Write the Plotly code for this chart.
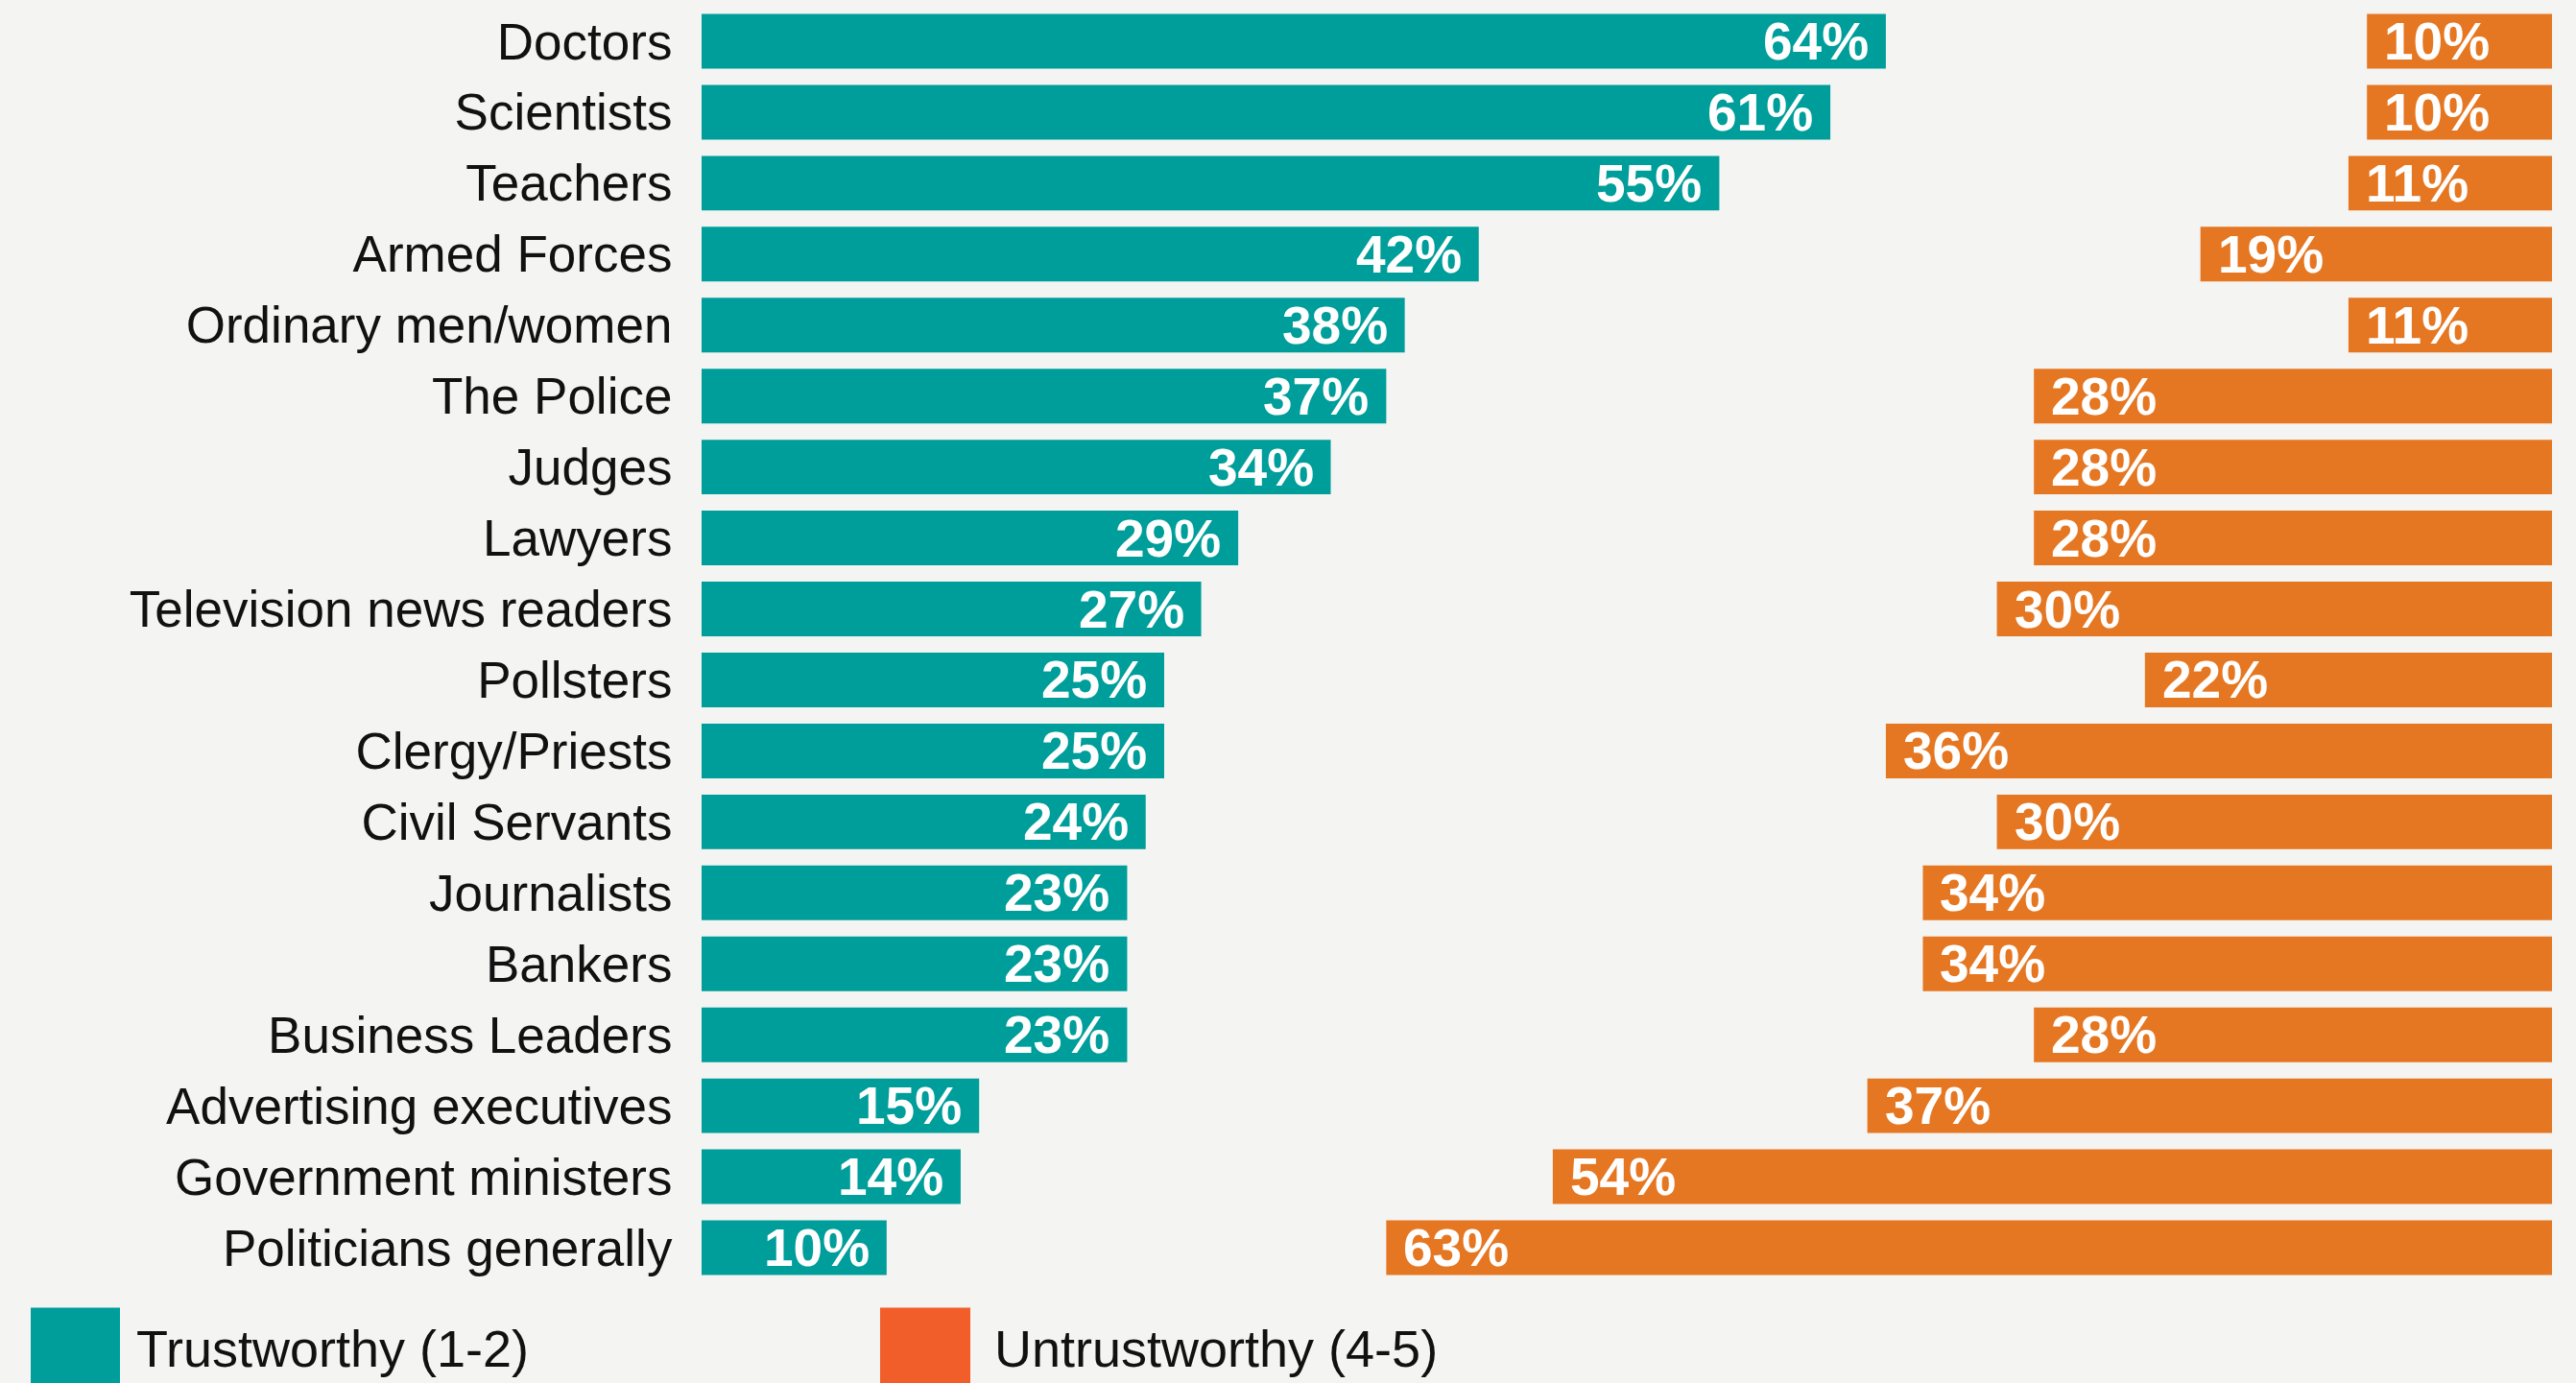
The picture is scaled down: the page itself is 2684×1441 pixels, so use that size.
import plotly.graph_objects as go

categories = ["Doctors", "Scientists", "Teachers", "Armed Forces", "Ordinary men/women",
              "The Police", "Judges", "Lawyers", "Television news readers", "Pollsters",
              "Clergy/Priests", "Civil Servants", "Journalists", "Bankers", "Business Leaders",
              "Advertising executives", "Government ministers", "Politicians generally"]
trustworthy = [64, 61, 55, 42, 38, 37, 34, 29, 27, 25, 25, 24, 23, 23, 23, 15, 14, 10]
untrustworthy = [10, 10, 11, 19, 11, 28, 28, 28, 30, 22, 36, 30, 34, 34, 28, 37, 54, 63]
legend_labels = ["Trustworthy (1-2)", "Untrustworthy (4-5)"]
scale_max = 100

TEAL = "#009E9A"
ORANGE = "#E67722"
LEGEND_ORANGE = "#F25E2A"
BG = "#F4F4F2"
FONT = "Liberation Sans, Arial, Helvetica, sans-serif"

fig = go.Figure()
fig.add_trace(go.Bar(y=categories, x=trustworthy, orientation="h", base=0,
                     marker=dict(color=TEAL, line=dict(width=0)), name=legend_labels[0],
                     hoverinfo="skip"))
fig.add_trace(go.Bar(y=categories, x=untrustworthy, orientation="h",
                     base=[scale_max - v for v in untrustworthy],
                     marker=dict(color=ORANGE, line=dict(width=0)), name=legend_labels[1],
                     hoverinfo="skip"))

annotations = []
for c, v in zip(categories, trustworthy):
    annotations.append(dict(x=v, y=c, xref="x", yref="y", text=f"{v}%", showarrow=False,
                            xanchor="right", yanchor="middle", xshift=-16, yshift=0,
                            font=dict(family=FONT, size=55, color="white", weight="bold")))
for c, v in zip(categories, untrustworthy):
    annotations.append(dict(x=scale_max - v, y=c, xref="x", yref="y", text=f"{v}%", showarrow=False,
                            xanchor="left", yanchor="middle", xshift=16, yshift=0,
                            font=dict(family=FONT, size=55, color="white", weight="bold")))

# legend drawn manually
plot_l, plot_w = 731, 1928
plot_b, plot_h = 1337.5, 1332
def px_x(p):
    return (p - plot_l) / plot_w
def px_y(p):
    return (plot_b - p) / plot_h

shapes = [
    dict(type="rect", xref="paper", yref="paper", x0=px_x(32), x1=px_x(125),
         y0=px_y(1363), y1=px_y(1460), fillcolor=TEAL, line=dict(width=0), layer="above"),
    dict(type="rect", xref="paper", yref="paper", x0=px_x(917), x1=px_x(1011),
         y0=px_y(1363), y1=px_y(1460), fillcolor=LEGEND_ORANGE, line=dict(width=0), layer="above"),
]
annotations.append(dict(x=px_x(140), y=px_y(1406), xref="paper", yref="paper", text=legend_labels[0],
                        showarrow=False, xanchor="left", yanchor="middle",
                        font=dict(family=FONT, size=54, color="#111111")))
annotations.append(dict(x=px_x(1034), y=px_y(1406), xref="paper", yref="paper", text=legend_labels[1],
                        showarrow=False, xanchor="left", yanchor="middle",
                        font=dict(family=FONT, size=54, color="#111111")))

fig.update_layout(
    width=2684, height=1441,
    margin=dict(l=731, r=25, t=6, b=103.5, pad=0),
    paper_bgcolor=BG, plot_bgcolor=BG,
    barmode="overlay", bargap=0.23,
    showlegend=False,
    annotations=annotations, shapes=shapes,
    font=dict(family=FONT, color="#111111"),
)
fig.update_xaxes(range=[0, scale_max], visible=False, showgrid=False, zeroline=False, fixedrange=True)
fig.update_yaxes(autorange="reversed", showgrid=False, zeroline=False, showline=False,
                 ticks="outside", ticklen=19, tickcolor="rgba(0,0,0,0)",
                 tickfont=dict(family=FONT, size=53, color="#111111"), fixedrange=True)

fig.write_html("out.html", config={"displayModeBar": False},
               post_script="document.body.style.margin='0';document.body.style.background='" + BG + "';")
